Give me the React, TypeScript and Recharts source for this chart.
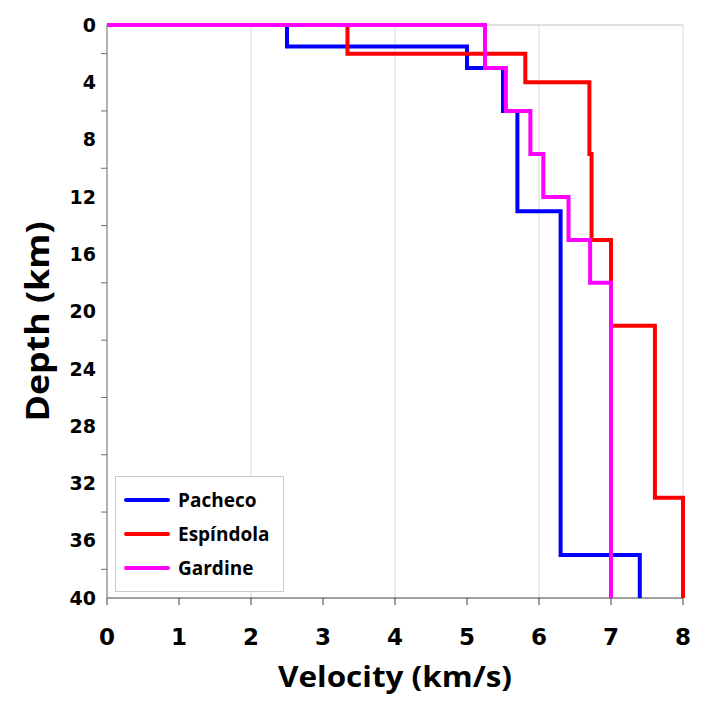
import React from 'react';
import { ScatterChart, Scatter, XAxis, YAxis, ReferenceLine, Legend, Label } from 'recharts';

// Axis scales
const velocityTicks = [0, 1, 2, 3, 4, 5, 6, 7, 8];
const depthTicks = [0, 2, 4, 6, 8, 10, 12, 14, 16, 18, 20, 22, 24, 26, 28, 30, 32, 34, 36, 38, 40];
const depthLabelStep = 4;
const gridVelocities = [2, 4, 6, 8];
const maxDepth = 40;

// Layered velocity models: velocity of each layer (km/s) and depth of each layer top (km)
const pachecoVelocities = [2.5, 5.0, 5.5, 5.7, 6.3, 7.4];
const pachecoLayerTops = [0, 1.5, 3, 6, 13, 37];

const espindolaVelocities = [3.34, 5.81, 6.7, 6.73, 7.0, 7.61, 8.0];
const espindolaLayerTops = [0, 2, 4, 9, 15, 21, 33];

const gardineVelocities = [5.25, 5.54, 5.88, 6.06, 6.41, 6.71, 7.0];
const gardineLayerTops = [0, 3, 6, 9, 12, 15, 18];

type Pt = { v: number; depth: number };

// Turn a layered model into a staircase profile starting at the surface origin
function stepProfile(velocities: number[], tops: number[]): Pt[] {
  const pts: Pt[] = [{ v: 0, depth: 0 }];
  velocities.forEach((v, i) => {
    const bottom = i + 1 < tops.length ? tops[i + 1] : maxDepth;
    pts.push({ v, depth: tops[i] }, { v, depth: bottom });
  });
  return pts;
}

const series = [
  { name: 'Pacheco', color: '#0000FF', data: stepProfile(pachecoVelocities, pachecoLayerTops) },
  { name: 'Espíndola', color: '#FF0000', data: stepProfile(espindolaVelocities, espindolaLayerTops) },
  { name: 'Gardine', color: '#FF00FF', data: stepProfile(gardineVelocities, gardineLayerTops) },
];
const seriesOrder = series.map((s) => s.name);

const W = 707;
const H = 717;
const Y_TICK_SIZE = 6;
const Y_TICK_MARGIN = 5;

// Labels on every 4 km, short outside tick marks halfway between them
const DepthTick = (props: any) => {
  const { x, y, payload } = props;
  const d = payload.value as number;
  const axisX = x + Y_TICK_SIZE + Y_TICK_MARGIN;
  if (d % depthLabelStep === 0) {
    return (
      <text
        x={x}
        y={y}
        dy="0.355em"
        textAnchor="end"
        fontFamily="DejaVu Sans"
        fontWeight={700}
        fontSize={19}
        fill="#000"
      >
        {d}
      </text>
    );
  }
  return <line x1={axisX - Y_TICK_SIZE} x2={axisX} y1={y} y2={y} stroke="#6f6f6f" strokeWidth={1} />;
};

const LegendBox = (props: any) => {
  const payload = [...(props.payload || [])].sort(
    (a: any, b: any) => seriesOrder.indexOf(a.value) - seriesOrder.indexOf(b.value),
  );
  return (
    <svg width={169} height={116} style={{ display: 'block' }}>
      <rect x={0.5} y={0.5} width={168} height={115} fill="#fff" stroke="#c8c8c8" strokeWidth={1} />
      {payload.map((e: any, i: number) => {
        const cy = 24 + i * 34;
        return (
          <g key={e.value}>
            <line x1={11} x2={53} y1={cy} y2={cy} stroke={e.color} strokeWidth={4} strokeLinecap="round" />
            <text
              x={63}
              y={cy + 7}
              fontFamily="Open Sans"
              fontWeight={700}
              fontSize={19}
              fill="#000"
            >
              {e.value}
            </text>
          </g>
        );
      })}
    </svg>
  );
};

export default function App() {
  return (
    <div style={{ position: 'absolute', left: 0, top: 0, width: W, height: H, background: '#fff' }}>
      <ScatterChart width={W} height={H} margin={{ top: 25, right: 24, bottom: 59, left: 47 }}>
        {gridVelocities.map((g) => (
          <ReferenceLine key={g} x={g} stroke="#d9d9d9" strokeWidth={1} />
        ))}
        <ReferenceLine y={0} stroke="#bfbfbf" strokeWidth={1} />
        <XAxis
          type="number"
          dataKey="v"
          domain={[0, 8]}
          ticks={velocityTicks}
          interval={0}
          height={60}
          stroke="#404040"
          tickSize={7}
          tickMargin={24}
          tick={{ fontFamily: 'DejaVu Sans', fontWeight: 700, fontSize: 23, fill: '#000' }}
        >
          <Label
            content={(p: any) => {
              const vb = p.viewBox;
              return (
                <text
                  x={vb.x + vb.width / 2}
                  y={687}
                  textAnchor="middle"
                  fontFamily="Open Sans"
                  fontWeight={700}
                  fontSize={28}
                  textLength={234}
                  lengthAdjust="spacingAndGlyphs"
                  fill="#000"
                >
                  Velocity (km/s)
                </text>
              );
            }}
          />
        </XAxis>
        <YAxis
          type="number"
          dataKey="depth"
          domain={[0, maxDepth]}
          reversed
          ticks={depthTicks}
          interval={0}
          width={60}
          axisLine={{ stroke: '#7f7f7f', strokeWidth: 1.2 }}
          tickLine={false}
          tickSize={Y_TICK_SIZE}
          tickMargin={Y_TICK_MARGIN}
          tick={<DepthTick />}
        >
          <Label
            content={(p: any) => {
              const vb = p.viewBox;
              const cy = vb.y + vb.height / 2 + 10;
              return (
                <text
                  x={49}
                  y={cy}
                  transform={`rotate(-90, 49, ${cy})`}
                  textAnchor="middle"
                  fontFamily="Open Sans"
                  fontWeight={700}
                  fontSize={32}
                  textLength={200}
                  lengthAdjust="spacingAndGlyphs"
                  fill="#000"
                >
                  Depth (km)
                </text>
              );
            }}
          />
        </YAxis>
        <Legend
          layout="horizontal"
          verticalAlign="middle"
          align="center"
          content={<LegendBox />}
          wrapperStyle={{ position: 'absolute', left: 115, top: 476, width: 169, height: 116 }}
        />
        {series.map((s) => (
          <Scatter
            key={s.name}
            name={s.name}
            data={s.data}
            fill={s.color}
            stroke={s.color}
            line={{ stroke: s.color, strokeWidth: 4 }}
            lineType="joint"
            shape={() => <g />}
            legendType="line"
            isAnimationActive={false}
          />
        ))}
      </ScatterChart>
    </div>
  );
}
